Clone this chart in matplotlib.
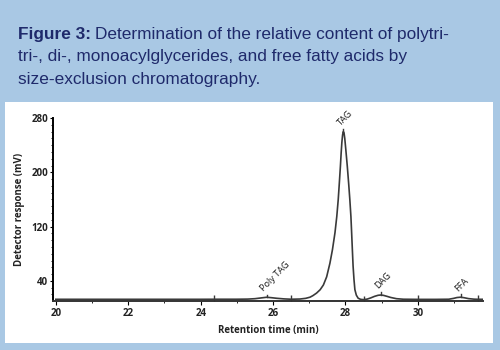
import matplotlib.pyplot as plt
from matplotlib.patches import Rectangle
from matplotlib.ticker import MultipleLocator

# chromatogram trace (retention time in min, detector response in mV)
rt = [20.0, 21.0, 22.0, 23.0, 24.0, 24.5, 25.0, 25.3, 25.5, 25.65, 25.82, 25.95,
      26.1, 26.3, 26.5, 26.74, 26.9, 27.02, 27.1, 27.2, 27.3, 27.39, 27.48, 27.57,
      27.64, 27.71, 27.76, 27.8, 27.83, 27.86, 27.88, 27.9, 27.92, 27.94, 27.96,
      27.98, 28.01, 28.05, 28.09, 28.12, 28.15, 28.17, 28.19, 28.21, 28.235, 28.26,
      28.3, 28.35, 28.42, 28.5, 28.6, 28.7, 28.8, 28.9, 28.97, 29.05, 29.15, 29.25,
      29.41, 29.6, 29.8, 30.0, 30.5, 30.85, 30.98, 31.08, 31.18, 31.28, 31.4,
      31.55, 31.66, 31.8]
resp = [12.9, 12.9, 12.9, 12.9, 12.9, 13.0, 13.0, 13.2, 13.8, 14.8, 15.9, 15.3,
        14.4, 13.5, 13.0, 13.3, 14.3, 16.0, 18.3, 22.0, 27.0, 34.0, 46.0, 66.0,
        86.0, 111.0, 135.0, 160.0, 184.0, 209.0, 228.0, 244.0, 255.0, 260.0, 258.0,
        250.0, 233.0, 209.0, 182.0, 160.0, 135.0, 111.0, 86.0, 62.0, 42.0, 27.0,
        19.0, 14.5, 12.8, 12.4, 13.2, 15.0, 17.2, 18.8, 19.2, 18.7, 17.2, 15.6,
        13.8, 13.0, 12.9, 12.8, 12.8, 13.0, 14.2, 15.5, 16.0, 15.2, 13.9,
        13.1, 12.9, 12.9]

# labelled peaks
peak_names = ["Poly TAG", "TAG", "DAG", "FFA"]
peak_rt = [25.82, 27.94, 28.97, 31.18]
peak_resp = [15.9, 260.0, 19.2, 16.0]

# integration cut points on the baseline
cut_rt = [24.36, 26.5, 28.5, 30.0, 31.66]
cut_resp = [12.9, 13.0, 12.4, 12.8, 12.9]

title_bold = "Figure 3:"
title_lines = ["Determination of the relative content of polytri-",
               "tri-, di-, monoacylglycerides, and free fatty acids by",
               "size-exclusion chromatography."]

navy = "#1f2a6b"
ink = "#3a3a3a"
fig = plt.figure(figsize=(5, 3.5), dpi=100, facecolor="#a9c8e4")
fig.patches.append(Rectangle((0.01, 0.02), 0.976, 0.689, transform=fig.transFigure,
                             facecolor="white", edgecolor="none", zorder=-1))

# title block
t1 = fig.text(0.036, 0.89, title_bold, fontsize=12.4, fontweight="bold",
              color=navy, family="Liberation Sans", va="baseline")
fig.canvas.draw()
bb = t1.get_window_extent()
x_next = (bb.x1 + 4) / fig.bbox.width
fig.text(x_next, 0.89, title_lines[0], fontsize=12.4, color=navy,
         family="Liberation Sans", va="baseline")
fig.text(0.036, 0.825, title_lines[1], fontsize=12.4, color=navy,
         family="Liberation Sans", va="baseline")
fig.text(0.036, 0.76, title_lines[2], fontsize=12.4, color=navy,
         family="Liberation Sans", va="baseline")

ax = fig.add_axes([0.1066, 0.14, 0.8588, 0.5229])
ax.set_facecolor("none")
ax.plot(rt, resp, color=ink, lw=1.2)
ax.plot(cut_rt, cut_resp, ls="none", marker="|", ms=6, mew=1.0, color=ink)

for name, x, y in zip(peak_names, peak_rt, peak_resp):
    ax.plot([x, x], [y, y + 4], color=ink, lw=1.0)
    ax.annotate(name, (x, y), xytext=(-1, 3), textcoords="offset points",
                rotation=45, rotation_mode="anchor", ha="left", va="bottom",
                fontsize=6.6, color="#1a1a1a", family="Open Sans")

ax.set_xlim(19.93, 31.79)
ax.set_ylim(10.4, 280)
ax.set_xticks([20, 22, 24, 26, 28, 30])
ax.xaxis.set_minor_locator(MultipleLocator(1))
ax.set_yticks([40, 120, 200, 280])
ax.yaxis.set_minor_locator(MultipleLocator(10))

for side in ["top", "right"]:
    ax.spines[side].set_visible(False)
ax.spines["left"].set_linewidth(1.4)
ax.spines["bottom"].set_linewidth(1.4)
ax.spines["bottom"].set_color("#333333")
ax.tick_params(axis="x", which="major", length=3, width=0.8, pad=2)
ax.tick_params(axis="y", which="major", length=2, width=0.8, pad=1.5)
ax.tick_params(axis="both", labelsize=7, labelcolor="#222222")
ax.tick_params(axis="both", which="minor", length=1.5, width=0.6)
for lab in ax.get_xticklabels() + ax.get_yticklabels():
    lab.set_fontweight("bold")
    lab.set_family("Open Sans")

ax.set_xlabel("Retention time (min)", fontsize=7, fontweight="bold",
              family="Open Sans", color="#222222", labelpad=4)
ax.set_ylabel("Detector response (mV)", fontsize=7, fontweight="bold",
              family="Open Sans", color="#222222", labelpad=5)

fig.savefig("out.png", dpi=100, facecolor=fig.get_facecolor())
